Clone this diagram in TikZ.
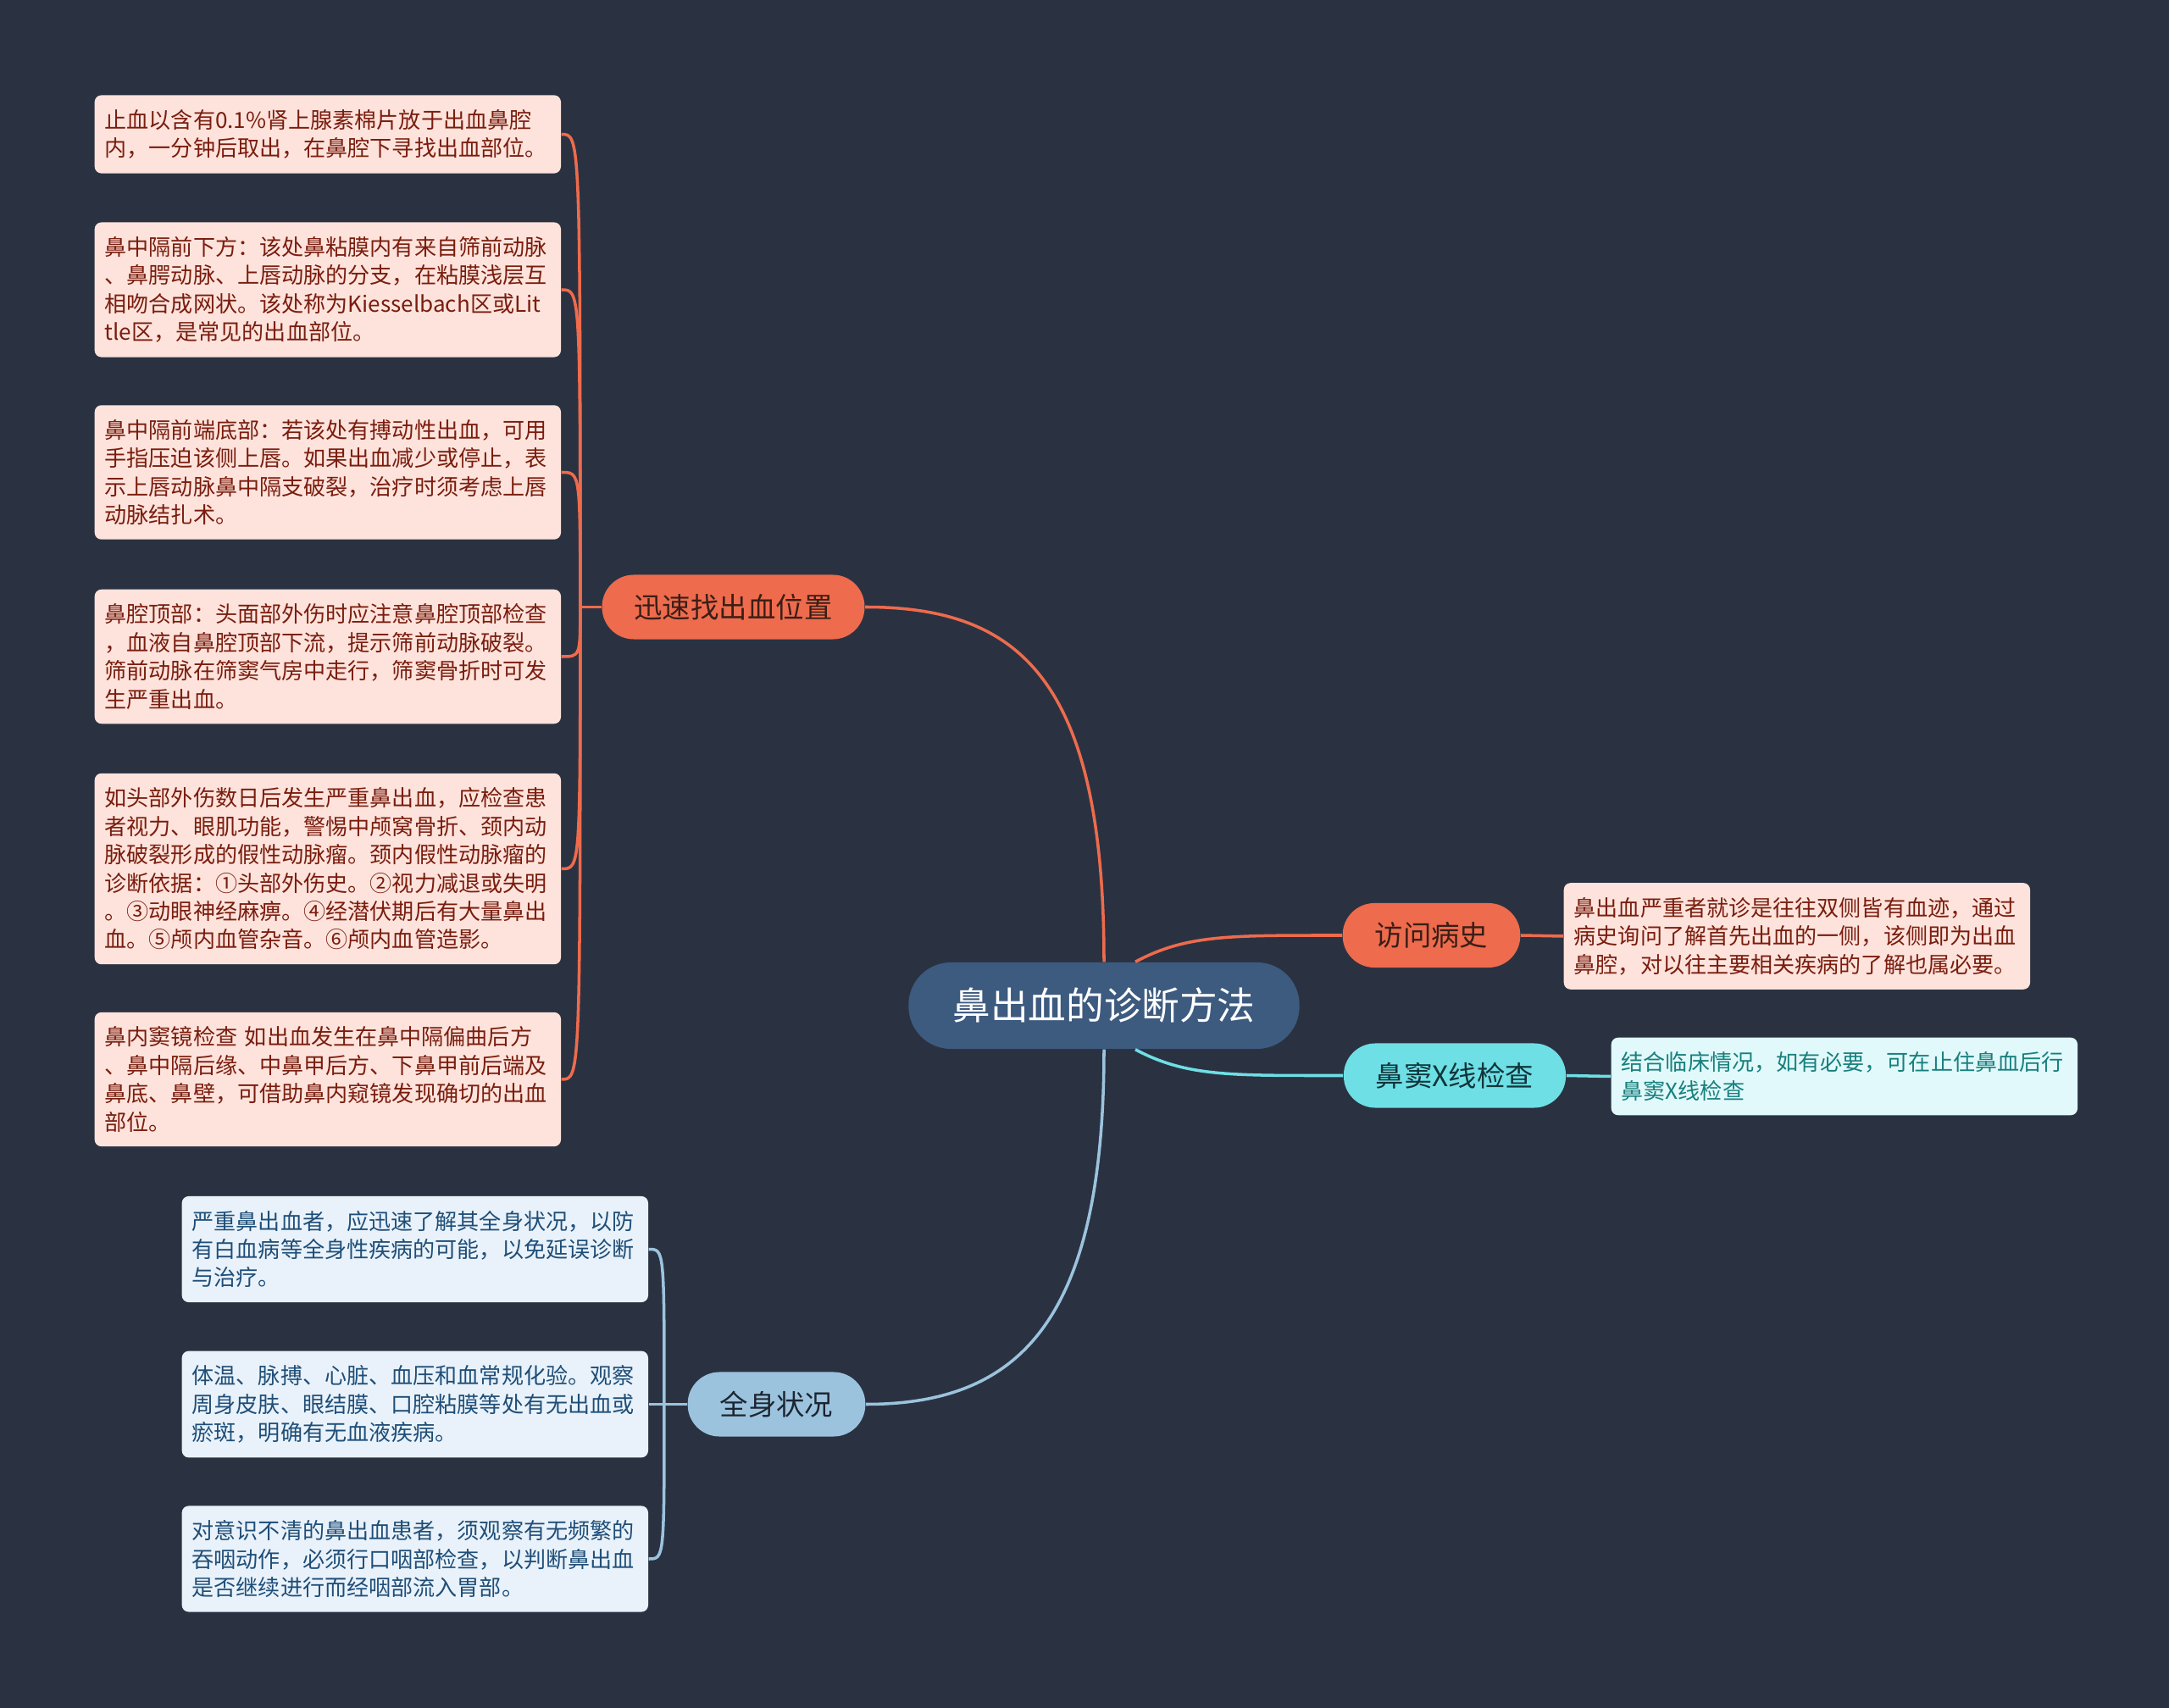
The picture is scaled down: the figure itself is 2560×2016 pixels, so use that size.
\documentclass[tikz,border=0pt]{standalone}
\usepackage{fontspec}
\setmainfont{Noto Sans CJK SC}
\usetikzlibrary{calc}

\definecolor{bgDark}{HTML}{2A3241}
\definecolor{rootBlue}{HTML}{3D5A7F}
\definecolor{redLine}{HTML}{EE6B4D}
\definecolor{redFill}{HTML}{FDE3DC}
\definecolor{redText}{HTML}{7A1D0E}
\definecolor{redDark}{HTML}{3A1E16}
\definecolor{blueLine}{HTML}{9CC3DE}
\definecolor{blueFill}{HTML}{E9F2FA}
\definecolor{blueText}{HTML}{1F4E78}
\definecolor{blueDark}{HTML}{1C2530}
\definecolor{cyanLine}{HTML}{6EDFE5}
\definecolor{cyanFill}{HTML}{E1F9FA}
\definecolor{cyanText}{HTML}{17807E}
\definecolor{cyanDark}{HTML}{10353A}

\begin{document}
\begin{tikzpicture}[x=0.01cm,y=-0.01cm]
	\tikzstyle{topic}=[fill=rootBlue, text=white, rounded corners=0.5cm, minimum height=1.02cm, inner xsep=0.52cm, font=\fontsize{12.7}{15}\selectfont]
	\tikzstyle{main}=[rounded corners=0.375cm, minimum height=0.76cm, inner xsep=0.38cm, font=\fontsize{9.5}{12}\selectfont]
	\tikzstyle{leaf}=[rounded corners=0.08cm, text width=5.26cm, align=left, inner xsep=0.12cm, inner ysep=0.17cm, font=\fontsize{7.42}{9.5}\selectfont]
	\tikzstyle{link}=[line width=1pt]

	\fill[bgDark] (0,0) rectangle (2560,2016);
	\useasboundingbox (0,0) rectangle (2560,2016);

	% centre
	\node[topic] (N) at (1303,1187) {鼻出血的诊断方法};

	% main branches
	\node[main, fill=redLine, text=redDark] (S) at (865.5,716.5) {迅速找出血位置};
	\node[main, fill=redLine, text=redDark] (H) at (1689.5,1104) {访问病史};
	\node[main, fill=cyanLine, text=cyanDark] (X) at (1717,1269.5) {鼻窦X线检查};
	\node[main, fill=blueLine, text=blueDark] (Q) at (916.5,1657.5) {全身状况};

	% leaves of S
	\node[leaf, fill=redFill, text=redText, anchor=west] (S1) at (111,158.5)
		{止血以含有0.1\%肾上腺素棉片放于出血鼻腔\\内，一分钟后取出，在鼻腔下寻找出血部位。};
	\node[leaf, fill=redFill, text=redText, anchor=west] (S2) at (111,342)
		{鼻中隔前下方：该处鼻粘膜内有来自筛前动脉\\、鼻腭动脉、上唇动脉的分支，在粘膜浅层互\\相吻合成网状。该处称为Kiesselbach区或Lit\\tle区，是常见的出血部位。};
	\node[leaf, fill=redFill, text=redText, anchor=west] (S3) at (111,557.5)
		{鼻中隔前端底部：若该处有搏动性出血，可用\\手指压迫该侧上唇。如果出血减少或停止，表\\示上唇动脉鼻中隔支破裂，治疗时须考虑上唇\\动脉结扎术。};
	\node[leaf, fill=redFill, text=redText, anchor=west] (S4) at (111,775)
		{鼻腔顶部：头面部外伤时应注意鼻腔顶部检查\\，血液自鼻腔顶部下流，提示筛前动脉破裂。\\筛前动脉在筛窦气房中走行，筛窦骨折时可发\\生严重出血。};
	\node[leaf, fill=redFill, text=redText, anchor=west] (S5) at (111,1025.5)
		{如头部外伤数日后发生严重鼻出血，应检查患\\者视力、眼肌功能，警惕中颅窝骨折、颈内动\\脉破裂形成的假性动脉瘤。颈内假性动脉瘤的\\诊断依据：①头部外伤史。②视力减退或失明\\。③动眼神经麻痹。④经潜伏期后有大量鼻出\\血。⑤颅内血管杂音。⑥颅内血管造影。};
	\node[leaf, fill=redFill, text=redText, anchor=west] (S6) at (111,1274)
		{鼻内窦镜检查 如出血发生在鼻中隔偏曲后方\\、鼻中隔后缘、中鼻甲后方、下鼻甲前后端及\\鼻底、鼻壁，可借助鼻内窥镜发现确切的出血\\部位。};

	% leaves of Q
	\node[leaf, fill=blueFill, text=blueText, anchor=west] (Q1) at (214,1474.5)
		{严重鼻出血者，应迅速了解其全身状况，以防\\有白血病等全身性疾病的可能，以免延误诊断\\与治疗。};
	\node[leaf, fill=blueFill, text=blueText, anchor=west] (Q2) at (214,1657.5)
		{体温、脉搏、心脏、血压和血常规化验。观察\\周身皮肤、眼结膜、口腔粘膜等处有无出血或\\瘀斑，明确有无血液疾病。};
	\node[leaf, fill=blueFill, text=blueText, anchor=west] (Q3) at (214,1840)
		{对意识不清的鼻出血患者，须观察有无频繁的\\吞咽动作，必须行口咽部检查，以判断鼻出血\\是否继续进行而经咽部流入胃部。};

	% leaves on the right
	\node[leaf, fill=redFill, text=redText, anchor=west] (H1) at (1845,1105)
		{鼻出血严重者就诊是往往双侧皆有血迹，通过\\病史询问了解首先出血的一侧，该侧即为出血\\鼻腔，对以往主要相关疾病的了解也属必要。};
	\node[leaf, fill=cyanFill, text=cyanText, anchor=west] (X1) at (1901,1270.5)
		{结合临床情况，如有必要，可在止住鼻血后行\\鼻窦X线检查};

	% centre to branches
	\draw[link, redLine] (N.north) .. controls ($(N.north)+(0,-336)$) and ($(S.east)+(180,0)$) .. (S.east);
	\draw[link, blueLine] (N.south) .. controls ($(N.south)+(0,322)$) and ($(Q.east)+(180,0)$) .. (Q.east);
	\draw[link, redLine] ([xshift=0.37cm]N.north) .. controls ($(N.north)+(97,-32)$) and ($(H.west)+(-134,0)$) .. (H.west);
	\draw[link, cyanLine] ([xshift=0.37cm]N.south) .. controls ($(N.south)+(97,32)$) and ($(X.west)+(-134,0)$) .. (X.west);

	% branches to leaves
	\coordinate (Sj) at ($(S.west)+(-25,0)$);
	\coordinate (Qj) at ($(Q.west)+(-27,0)$);
	\draw[link, redLine] (S.west) -- (Sj);
	\foreach \n in {1,...,6}
		\draw[link, redLine] (Sj) .. controls (Sj |- S\n.east) .. (S\n.east);
	\draw[link, blueLine] (Q.west) -- (Qj);
	\foreach \n in {1,2,3}
		\draw[link, blueLine] (Qj) .. controls (Qj |- Q\n.east) .. (Q\n.east);
	\draw[link, redLine] (H.east) -- (H1.west);
	\draw[link, cyanLine] (X.east) -- (X1.west);
\end{tikzpicture}
\end{document}
